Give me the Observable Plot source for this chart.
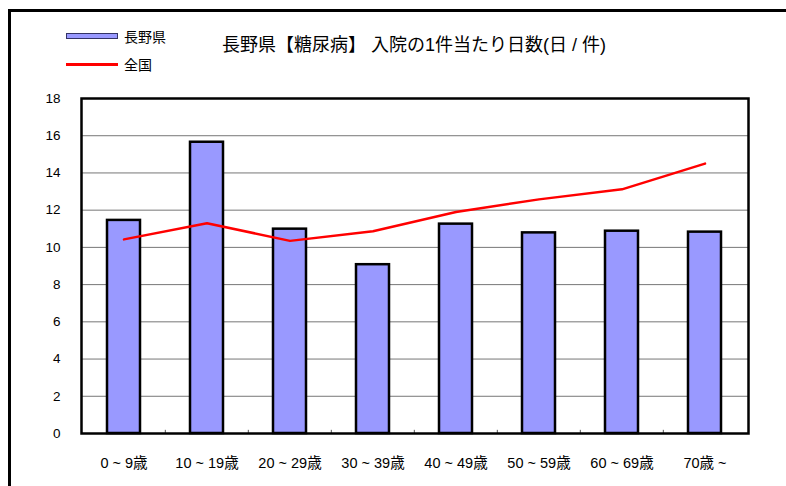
<!DOCTYPE html>
<html>
<head>
<meta charset="utf-8">
<script src="https://cdn.jsdelivr.net/npm/d3@7"></script>
<script src="https://cdn.jsdelivr.net/npm/@observablehq/plot@0.6"></script>
<style>
  body { margin: 0; background: #fff; }
  #wrap { position: relative; width: 786px; height: 486px; overflow: hidden; font-family: "Liberation Sans", "Noto Sans CJK JP", sans-serif; }
  #frame { position: absolute; left: 8px; top: 9px; width: 800px; height: 500px; border: 3px solid #000; box-sizing: border-box; }
  #title { position: absolute; left: 222px; top: 30px; font-size: 18px; color: #000; white-space: nowrap; font-family: "Liberation Sans", "Noto Sans CJK JP", sans-serif; }
  .leg { position: absolute; left: 66px; font-size: 14px; white-space: nowrap; display: flex; align-items: center; }
  .sw-bar { width: 50px; height: 4px; background: #9999ff; border: 1px solid #333366; margin-right: 6px; }
  .sw-line { width: 52px; height: 3px; background: #ff0000; margin-right: 6px; }
  #chart { position: absolute; left: 0; top: 0; }
</style>
</head>
<body>
<div id="wrap">
  <div id="chart"></div>
  <div id="frame"></div>
  <div id="title">長野県【糖尿病】 入院の1件当たり日数(日 / 件)</div>
  <div class="leg" style="top:26px"><span class="sw-bar"></span>長野県</div>
  <div class="leg" style="top:54px"><span class="sw-line"></span>全国</div>
</div>
<script>
const categories = ["0 ~ 9歳", "10 ~ 19歳", "20 ~ 29歳", "30 ~ 39歳", "40 ~ 49歳", "50 ~ 59歳", "60 ~ 69歳", "70歳 ~"];
const naganoValues = [11.45, 15.65, 10.98, 9.07, 11.25, 10.78, 10.87, 10.82];
const nationalValues = [10.43, 11.3, 10.35, 10.87, 11.9, 12.58, 13.12, 14.5];
const yTicks = [0, 2, 4, 6, 8, 10, 12, 14, 16, 18];

const nagano = categories.map((c, i) => ({category: c, value: naganoValues[i]}));
const national = categories.map((c, i) => ({category: c, value: nationalValues[i]}));

const W = 786, H = 486, ML = 81, MR = 38, MT = 98, MB = 53;
const step = (W - ML - MR) / categories.length;

const chart = Plot.plot({
  width: W,
  height: H,
  marginLeft: ML,
  marginRight: MR,
  marginTop: MT,
  marginBottom: MB,
  style: {fontFamily: "'Liberation Sans', 'Noto Sans CJK JP', sans-serif", fontSize: "13.5px", color: "#000", background: "transparent"},
  x: {domain: categories, paddingInner: 0.6, paddingOuter: 0.3, label: null, tickSize: 0, tickPadding: 24},
  y: {domain: [0, 18], ticks: yTicks, label: null, tickSize: 0, tickPadding: 21, tickFormat: d => String(d)},
  marks: [
    Plot.ruleY(yTicks.filter(t => t > 0 && t < 18), {stroke: "#777", strokeWidth: 1, strokeOpacity: 1}),
    Plot.ruleX(categories.slice(1), {x: d => d, y1: 0, y2: 0.17, dx: -step / 2, stroke: "#555", strokeWidth: 1}),
    Plot.barY(nagano, {x: "category", y: "value", fill: "#9999ff", stroke: "#000", strokeWidth: 2.5}),
    Plot.line(national, {x: "category", y: "value", stroke: "#ff0000", strokeWidth: 2.5}),
    Plot.frame({stroke: "#000", strokeWidth: 2.5})
  ]
});
chart.querySelectorAll("g[aria-label='x-axis tick label'] text, g[aria-label='x-axis'] text").forEach(t => t.style.fontSize = "14.5px");
document.getElementById("chart").appendChild(chart);
</script>
</body>
</html>
